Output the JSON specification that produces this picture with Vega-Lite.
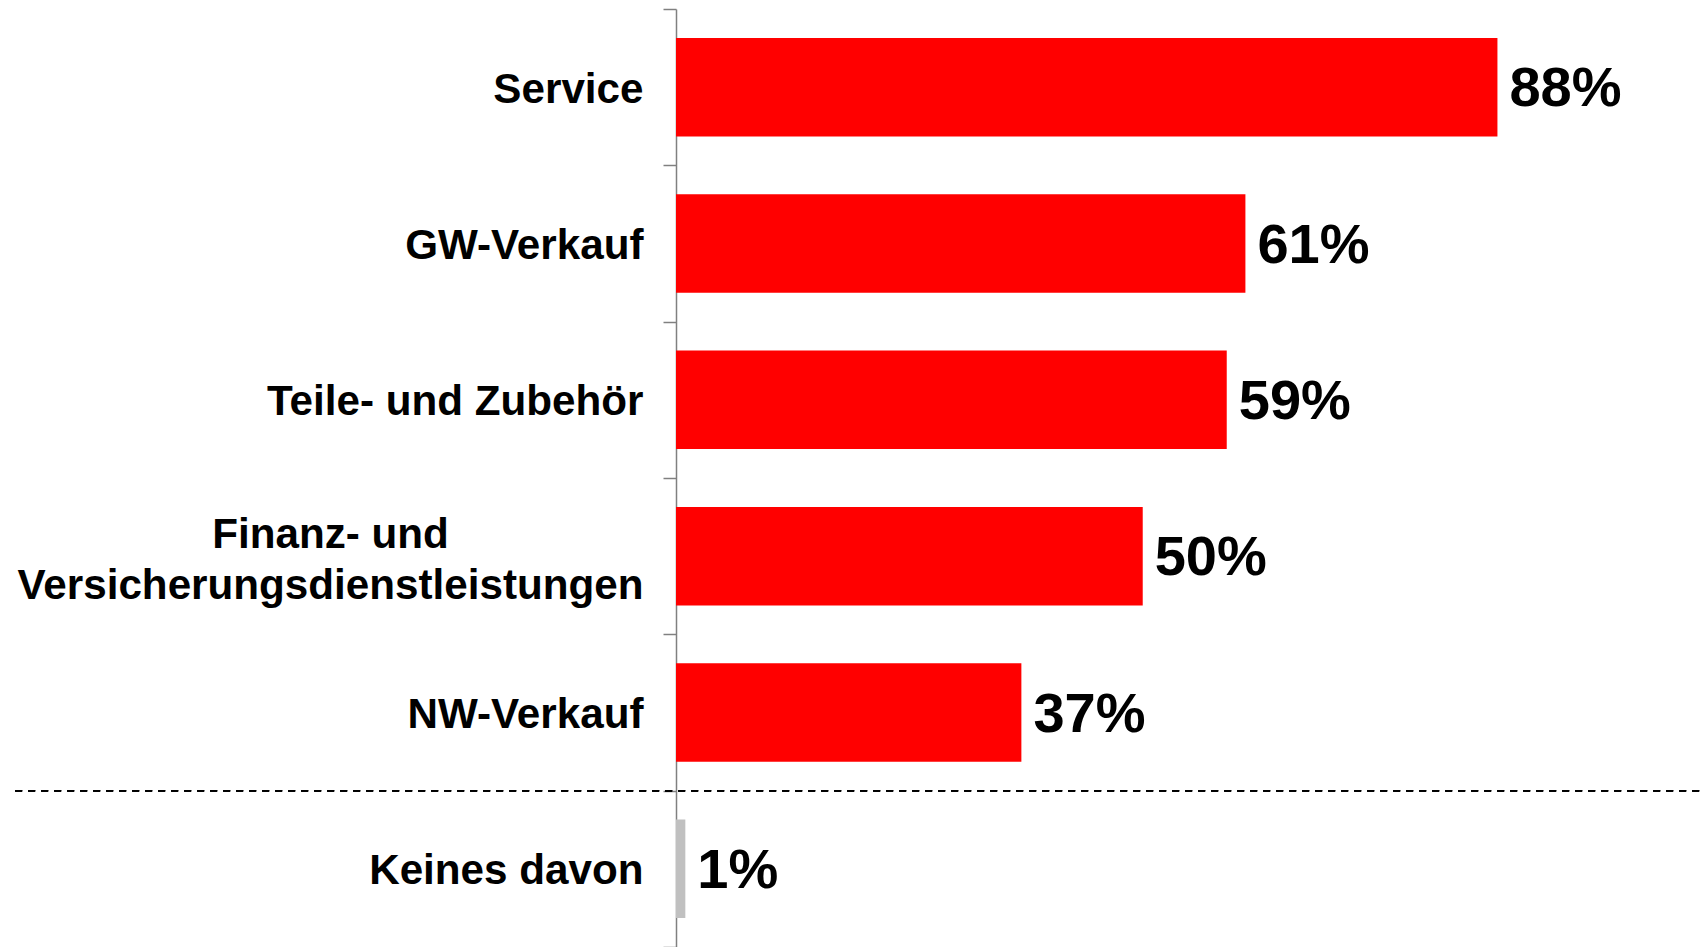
{
  "$schema": "https://vega.github.io/schema/vega-lite/v6.json",
  "width": 1024,
  "height": 938,
  "autosize": {"type": "none"},
  "padding": {"left": 676, "top": 9, "right": 0, "bottom": 0},
  "background": "white",
  "config": {"view": {"stroke": null}},
  "data": {
    "values": [
      {"cat": "Service", "value": 0.88, "group": "main"},
      {"cat": "GW-Verkauf", "value": 0.61, "group": "main"},
      {"cat": "Teile- und Zubehör", "value": 0.59, "group": "main"},
      {"cat": "Finanz- und Versicherungsdienstleistungen", "value": 0.50, "group": "main"},
      {"cat": "NW-Verkauf", "value": 0.37, "group": "main"},
      {"cat": "Keines davon", "value": 0.01, "group": "none"}
    ]
  },
  "encoding": {
    "y": {
      "field": "cat",
      "type": "nominal",
      "sort": null,
      "scale": {"paddingInner": 0, "paddingOuter": 0},
      "axis": {
        "title": null,
        "domainColor": "#808080",
        "domainWidth": 1.5,
        "tickColor": "#808080",
        "tickSize": 13,
        "tickWidth": 1.5,
        "tickBand": "extent",
        "labelFont": "Liberation Sans",
        "labelFontWeight": "bold",
        "labelFontSize": 42.2,
        "labelColor": "black",
        "labelLimit": 0,
        "labelOverlap": false,
        "labelBaseline": "middle",
        "labelLineHeight": 51,
        "labelPadding": {"condition": {"test": "datum.value === 'Finanz- und Versicherungsdienstleistungen'", "value": 333}, "value": 20},
        "labelAlign": {"condition": {"test": "datum.value === 'Finanz- und Versicherungsdienstleistungen'", "value": "center"}, "value": "right"},
        "labelOffset": {"condition": {"test": "datum.value === 'Finanz- und Versicherungsdienstleistungen'", "value": -22}, "value": 2},
        "labelExpr": "datum.value === 'Finanz- und Versicherungsdienstleistungen' ? ['Finanz- und', 'Versicherungsdienstleistungen'] : datum.label"
      }
    },
    "x": {
      "field": "value",
      "type": "quantitative",
      "scale": {"domain": [0, 1.097]},
      "axis": null
    }
  },
  "layer": [
    {
      "mark": {"type": "bar", "height": {"band": 0.63}},
      "encoding": {
        "color": {
          "field": "group",
          "type": "nominal",
          "scale": {"domain": ["main", "none"], "range": ["#ff0000", "#c0c0c0"]},
          "legend": null
        }
      }
    },
    {
      "mark": {"type": "text", "align": "left", "baseline": "middle", "dx": 12, "dy": 2, "font": "Liberation Sans", "fontWeight": "bold", "fontSize": 56, "color": "black"},
      "encoding": {
        "text": {"field": "value", "type": "quantitative", "format": ".0%"}
      }
    },
    {
      "mark": {"type": "rule", "strokeDash": [7, 6], "strokeWidth": 1.5, "color": "black"},
      "encoding": {
        "y": {"datum": "Keines davon", "type": "nominal", "bandPosition": 0},
        "x": {"datum": -0.708, "type": "quantitative"},
        "x2": {"datum": 1.097}
      }
    }
  ]
}
